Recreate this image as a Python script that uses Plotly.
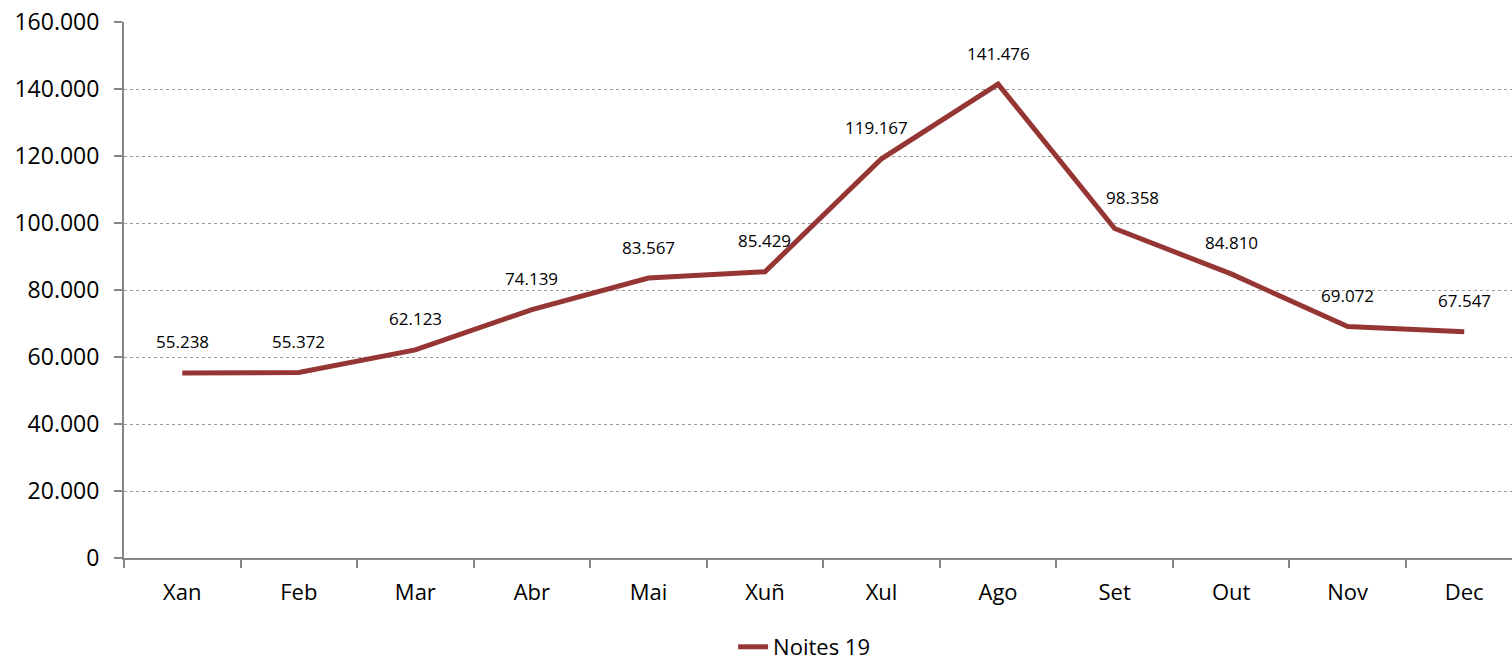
import plotly.graph_objects as go

months = ["Xan", "Feb", "Mar", "Abr", "Mai", "Xuñ", "Xul", "Ago", "Set", "Out", "Nov", "Dec"]
noites_19 = [55238, 55372, 62123, 74139, 83567, 85429, 119167, 141476, 98358, 84810, 69072, 67547]
y_ticks = [0, 20000, 40000, 60000, 80000, 100000, 120000, 140000, 160000]

line_color = "#963634"
font_family = "Open Sans, Liberation Sans, sans-serif"

def fmt(v):
    return f"{v:,}".replace(",", ".")

# manual label nudges (label placement only)
label_xshift = {"Set": 18, "Xul": -5}

fig = go.Figure()
fig.add_trace(go.Scatter(
    x=months, y=noites_19, mode="lines", name="Noites 19",
    line=dict(color=line_color, width=5),
))

for m, v in zip(months, noites_19):
    fig.add_annotation(x=m, y=v, text=fmt(v), showarrow=False, yshift=31,
                       xshift=label_xshift.get(m, 0),
                       font=dict(size=17, color="#000000", family=font_family))

fig.update_layout(
    width=1512, height=661,
    margin=dict(l=124, r=0, t=22, b=103, autoexpand=False),
    paper_bgcolor="white", plot_bgcolor="white",
    separators=",.",
    font=dict(family=font_family, color="#000000"),
    showlegend=True,
    legend=dict(orientation="h", x=0.49, xanchor="center",
                yref="container", y=14 / 661, yanchor="middle",
                font=dict(size=22, color="#000000")),
    xaxis=dict(
        type="category", range=[-0.5, 11.41], tickson="boundaries",
        showgrid=False, showline=True, linecolor="#868686", linewidth=2,
        ticks="outside", ticklen=8, tickcolor="#868686", tickwidth=2,
        tickfont=dict(size=22, color="#000000"), ticklabelstandoff=14,
        automargin=False,
    ),
    yaxis=dict(
        range=[0, 160000], tickvals=y_ticks, ticktext=[fmt(t) for t in y_ticks],
        showgrid=True, gridcolor="#999999", griddash="dot", gridwidth=1,
        showline=True, linecolor="#868686", linewidth=2,
        ticks="outside", ticklen=8, tickcolor="#868686", tickwidth=2,
        tickfont=dict(size=23, color="#000000"), zeroline=False,
        ticklabelstandoff=10, automargin=False,
    ),
)

fig.write_html("out.html", config={"displayModeBar": False},
               post_script="document.body.style.margin='0';")
